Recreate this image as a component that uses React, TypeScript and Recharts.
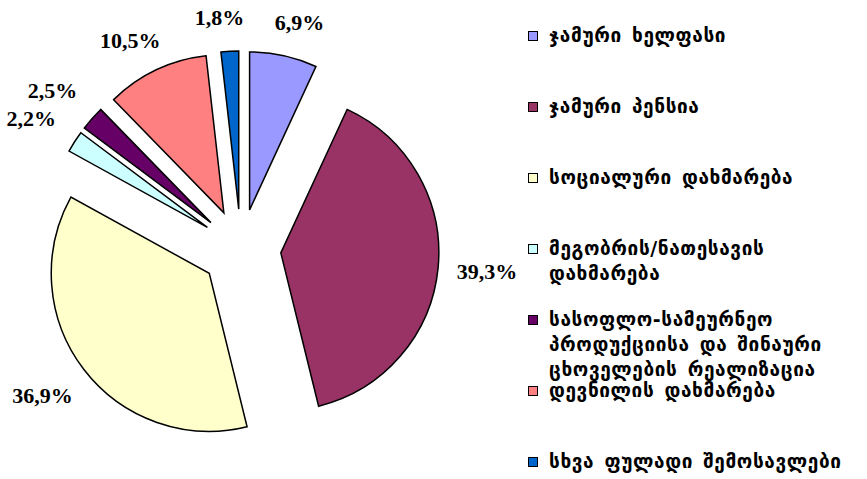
import { PieChart, Pie, Cell, Sector, Legend } from 'recharts';

const categories = [
  'ჯამური ხელფასი',
  'ჯამური პენსია',
  'სოციალური დახმარება',
  'მეგობრის/ნათესავის დახმარება',
  'სასოფლო-სამეურნეო პროდუქციისა და შინაური ცხოველების რეალიზაცია',
  'დევნილის დახმარება',
  'სხვა ფულადი შემოსავლები',
];
const shares = [6.9, 39.3, 36.9, 2.2, 2.5, 10.5, 1.8];
const colors = ['#9999FF', '#993366', '#FFFFCC', '#CCFFFF', '#660066', '#FF8080', '#0066CC'];

const data = categories.map((name, i) => ({ name, value: shares[i] }));

const RAD = Math.PI / 180;
const EXPLODE = 40;

const ExplodedSector = (props: any) => {
  const { cx, cy, midAngle } = props;
  const dx = EXPLODE * Math.cos(-midAngle * RAD);
  const dy = EXPLODE * Math.sin(-midAngle * RAD);
  return <Sector {...props} cx={cx + dx} cy={cy + dy} />;
};

const renderLabel = (props: any) => {
  const { cx, cy, midAngle, outerRadius, value } = props;
  const r = outerRadius + 82;
  const ux = Math.cos(-midAngle * RAD);
  const uy = Math.sin(-midAngle * RAD);
  // push labels a bit sideways / down like the spreadsheet does
  const x = cx + r * ux + (ux > 0 ? 7 : -8);
  const y = cy + r * uy + (uy < -0.85 ? 8 : 0);
  return (
    <text
      x={x}
      y={y}
      textAnchor="middle"
      dominantBaseline="central"
      fontFamily="'Liberation Serif', 'Times New Roman', serif"
      fontWeight="bold"
      fontSize={22}
      fill="#000"
    >
      {value.toFixed(1).replace('.', ',') + '%'}
    </text>
  );
};

// legend drawn in the data order (Recharts would sort it by name)
const renderLegend = () => (
  <div style={{ width: 339 }}>
    {categories.map((name, i) => (
      <div key={name} style={{ height: 71, display: 'flex', alignItems: 'flex-start' }}>
        <span
          style={{
            display: 'inline-block',
            width: 8,
            height: 8,
            marginTop: 8,
            marginRight: 11,
            background: colors[i],
            border: '1px solid #000',
            flexShrink: 0,
          }}
        />
        <span
          style={{
            width: 318,
            fontFamily: "'DejaVu Sans', sans-serif",
            fontWeight: 'bold',
            fontSize: 19,
            letterSpacing: 0.6,
            wordSpacing: 3,
            lineHeight: '25px',
            color: '#000',
          }}
        >
          {name}
        </span>
      </div>
    ))}
  </div>
);

export default function App() {
  return (
    <div style={{ position: 'absolute', left: 0, top: 0, width: 867, height: 479, background: '#fff' }}>
      <PieChart width={867} height={479} margin={{ top: 0, right: 0, bottom: 0, left: 0 }}>
        <Pie
          data={data}
          dataKey="value"
          nameKey="name"
          cx={241}
          cy={249}
          outerRadius={158}
          startAngle={90}
          endAngle={-270}
          stroke="#000"
          strokeWidth={1.5}
          label={renderLabel}
          labelLine={false}
          shape={ExplodedSector}
          activeShape={ExplodedSector}
          inactiveShape={ExplodedSector}
          isAnimationActive={false}
        >
          {data.map((d, i) => (
            <Cell key={d.name} fill={colors[i]} />
          ))}
        </Pie>
        <Legend
          layout="vertical"
          align="right"
          verticalAlign="top"
          content={renderLegend}
          wrapperStyle={{ left: 528, top: 23, width: 339 }}
        />
      </PieChart>
    </div>
  );
}
